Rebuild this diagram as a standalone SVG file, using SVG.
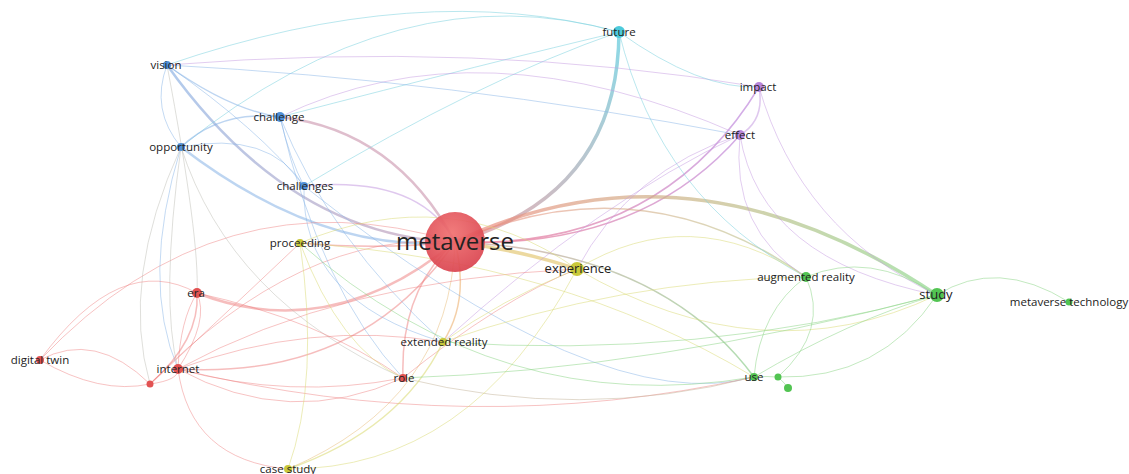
<svg xmlns="http://www.w3.org/2000/svg" width="1129" height="474" viewBox="0 0 1129 474">
<style>
.e path{fill:none;stroke-linecap:round}
.r{stroke:#ee7b7b;stroke-opacity:.5}
.b{stroke:#86b3e6;stroke-opacity:.55}
.c{stroke:#7fd3df;stroke-opacity:.6}
.p{stroke:#c49ae0;stroke-opacity:.55}
.g{stroke:#8fd68a;stroke-opacity:.6}
.y{stroke:#dcdc7a;stroke-opacity:.6}
.gr{stroke:#b8b8b0;stroke-opacity:.5}
.t1{stroke-width:.9}
.t2{stroke-width:1.5}
.t3{stroke-width:2.5}
.t4{stroke-width:3.5}
text{font-family:"Open Sans","Liberation Sans",sans-serif;fill:#222222;font-size:11.5px;text-anchor:middle}
.nr{fill:#e25252}
.nb{fill:#4f8fd6}
.nc{fill:#4ccadb}
.np{fill:#b786d9}
.ng{fill:#52c452}
.ny{fill:#c9c83a}
</style>
<defs>
<linearGradient id="gFut" gradientUnits="userSpaceOnUse" x1="619" y1="32" x2="455" y2="242"><stop offset="0" stop-color="#6fd0e0"/><stop offset="1" stop-color="#e89aa0"/></linearGradient>
<linearGradient id="gStu" gradientUnits="userSpaceOnUse" x1="455" y1="242" x2="937" y2="295"><stop offset="0" stop-color="#f08a80"/><stop offset=".5" stop-color="#c8b888"/><stop offset="1" stop-color="#90d890"/></linearGradient>
<linearGradient id="gEff" gradientUnits="userSpaceOnUse" x1="455" y1="242" x2="740" y2="135"><stop offset="0" stop-color="#f0889a"/><stop offset="1" stop-color="#c898e0"/></linearGradient>
<linearGradient id="gVis" gradientUnits="userSpaceOnUse" x1="167" y1="65" x2="455" y2="242"><stop offset="0" stop-color="#8fb5e6"/><stop offset="1" stop-color="#c8a0b8"/></linearGradient>
<linearGradient id="gUse" gradientUnits="userSpaceOnUse" x1="455" y1="242" x2="754" y2="377"><stop offset="0" stop-color="#d0a0a0"/><stop offset="1" stop-color="#90d090"/></linearGradient>
<radialGradient id="gMeta" cx=".45" cy=".35" r=".7"><stop offset="0" stop-color="#f07070"/><stop offset="1" stop-color="#d8404c"/></radialGradient>
</defs>
<rect width="1129" height="474" fill="#ffffff"/>
<g id="connectors" class="e">
<path class="t4" stroke="url(#gFut)" stroke-opacity=".8" d="M455,242 Q618,195 619,32"/>
<path class="t3" stroke="#d4a8bc" stroke-opacity=".75" d="M455,242 Q395,130 280,117"/>
<path class="t3" stroke="url(#gVis)" stroke-opacity=".7" d="M455,242 Q289,236 167,65"/>
<path class="b t3" d="M455,242 Q322,255 181,147"/>
<path class="p t2" d="M455,242 Q420,175 304,186"/>
<path class="t2" stroke="url(#gEff)" stroke-opacity=".8" d="M455,242 Q640,250 740,135"/>
<path class="t2" stroke="url(#gEff)" stroke-opacity=".8" d="M455,242 Q660,250 759,87"/>
<path class="t4" stroke="url(#gStu)" stroke-opacity=".7" d="M455,242 Q690,130 937,295"/>
<path class="t2" stroke="url(#gStu)" stroke-opacity=".6" d="M455,242 Q640,160 806,277"/>
<path class="t4" stroke="#e0c060" stroke-opacity=".6" d="M455,242 Q520,250 577,269"/>
<path class="r t3" d="M455,242 Q330,345 197,293"/>
<path class="r t2" d="M455,242 Q360,380 178,369"/>
<path class="r t1" d="M455,242 Q220,170 40,360"/>
<path class="r t2" d="M455,242 Q400,290 403,378"/>
<path class="t2" stroke="#ecb070" stroke-opacity=".6" d="M455,242 Q470,300 443,342"/>
<path class="t2" stroke="url(#gUse)" stroke-opacity=".7" d="M455,242 Q660,250 754,377"/>
<path class="t1" stroke="#e8c080" stroke-opacity=".6" d="M455,242 Q450,400 288,469"/>
<path class="r t2" d="M455,242 Q380,250 300,243"/>
<path class="r t1" d="M455,242 Q300,230 150,384"/>
<path class="c t1" d="M167,65 Q420,-22 619,32"/>
<path class="c t1" d="M181,147 Q400,-30 619,32"/>
<path class="c t1" d="M280,117 Q500,60 619,32"/>
<path class="c t1" d="M304,186 Q480,80 619,32"/>
<path class="p t1" d="M167,65 Q480,40 759,87"/>
<path class="p t1" d="M280,117 Q480,20 740,135"/>
<path class="c t1" d="M619,32 Q700,90 759,87"/>
<path class="c t1" d="M619,32 Q660,200 806,277"/>
<path class="p t2" d="M759,87 Q765,120 740,135"/>
<path class="p t1" d="M759,87 Q800,230 937,295"/>
<path class="p t1" d="M740,135 Q760,260 937,295"/>
<path class="p t1" d="M740,135 Q730,230 806,277"/>
<path class="p t1" d="M740,135 Q600,200 443,342"/>
<path class="p t1" d="M740,135 Q630,170 577,269"/>
<path class="b t2" d="M167,65 Q230,110 280,117"/>
<path class="b t1" d="M167,65 Q150,110 181,147"/>
<path class="b t2" d="M181,147 Q220,110 280,117"/>
<path class="b t1" d="M181,147 Q270,130 304,186"/>
<path class="b t1" d="M280,117 Q290,160 304,186"/>
<path class="b t1" d="M167,65 Q260,130 304,186"/>
<path class="b t1" d="M167,65 Q450,80 740,135"/>
<path class="b t1" d="M181,147 Q140,280 178,369"/>
<path class="gr t1" d="M181,147 Q120,280 150,384"/>
<path class="gr t1" d="M167,65 Q200,240 197,293"/>
<path class="gr t1" d="M181,147 Q230,300 403,378"/>
<path class="b t1" d="M280,117 Q320,290 403,378"/>
<path class="b t1" d="M280,117 Q330,240 443,342"/>
<path class="b t1" d="M304,186 Q300,300 443,342"/>
<path class="b t1" d="M304,186 Q600,420 754,377"/>
<path class="gr t1" d="M181,147 Q160,300 178,369"/>
<path class="r t1" d="M40,360 Q95,330 150,384"/>
<path class="r t1" d="M40,360 Q100,395 150,384"/>
<path class="r t1" d="M40,360 Q120,250 197,293"/>
<path class="r t2" d="M150,384 Q200,340 197,293"/>
<path class="r t1" d="M150,384 Q180,380 178,369"/>
<path class="r t1" d="M178,369 Q210,320 197,293"/>
<path class="r t1" d="M178,369 Q180,320 197,293"/>
<path class="r t1" d="M150,384 Q240,300 300,243"/>
<path class="r t1" d="M178,369 Q290,430 403,378"/>
<path class="r t1" d="M178,369 Q290,400 403,378"/>
<path class="r t1" d="M178,369 Q310,320 443,342"/>
<path class="r t1" d="M178,369 Q340,280 577,269"/>
<path class="r t1" d="M197,293 Q320,320 403,378"/>
<path class="r t1" d="M178,369 Q470,440 754,377"/>
<path class="t1" stroke="#c8b8a0" stroke-opacity=".6" d="M403,378 Q580,422 754,377"/>
<path class="r t1" d="M403,378 Q500,300 577,269"/>
<path class="r t1" d="M178,369 Q190,460 288,469"/>
<path class="y t1" d="M300,243 Q450,180 577,269"/>
<path class="y t1" d="M300,243 Q320,380 288,469"/>
<path class="y t1" d="M300,243 Q340,350 403,378"/>
<path class="y t1" d="M300,243 Q560,260 754,377"/>
<path class="y t1" d="M577,269 Q763,378 937,295"/>
<path class="y t1" d="M577,269 Q690,200 806,277"/>
<path class="y t1" d="M577,269 Q470,470 288,469"/>
<path class="y t2" d="M443,342 Q400,430 288,469"/>
<path class="y t1" d="M577,269 Q500,300 443,342"/>
<path class="y t1" d="M443,342 Q620,280 806,277"/>
<path class="g t1" d="M937,295 Q997,257 1069,302"/>
<path class="g t1" d="M806,277 Q870,250 937,295"/>
<path class="g t1" d="M937,295 Q880,380 778,377"/>
<path class="g t1" d="M937,295 Q850,320 754,377"/>
<path class="g t1" d="M806,277 Q760,310 754,377"/>
<path class="g t1" d="M806,277 Q830,330 778,377"/>
<path class="g t1" d="M754,377 Q766,376 778,377"/>
<path class="g t1" d="M778,377 Q785,383 788,388"/>
<path class="g t1" d="M937,295 Q700,360 443,342"/>
<path class="g t1" d="M937,295 Q650,370 403,378"/>
<path class="g t1" d="M754,377 Q500,420 300,243"/>
</g>
<g id="node-metaverse"><circle cx="455" cy="242" r="30" fill="url(#gMeta)" fill-opacity=".92"/><text x="455" y="250" style="font-size:24px">metaverse</text></g>
<g id="node-vision"><circle class="nb" cx="167" cy="65" r="4"/><text x="166" y="69">vision</text></g>
<g id="node-challenge"><circle class="nb" cx="280" cy="117" r="5"/><text x="279" y="121">challenge</text></g>
<g id="node-opportunity"><circle class="nb" cx="181" cy="147" r="4"/><text x="181" y="151">opportunity</text></g>
<g id="node-challenges"><circle class="nb" cx="304" cy="186" r="4"/><text x="305" y="190">challenges</text></g>
<g id="node-proceeding"><circle class="ny" cx="300" cy="243" r="4"/><text x="300" y="247">proceeding</text></g>
<g id="node-future"><circle class="nc" cx="619" cy="32" r="6"/><text x="619" y="36">future</text></g>
<g id="node-impact"><circle class="np" cx="759" cy="87" r="5"/><text x="758" y="91">impact</text></g>
<g id="node-effect"><circle class="np" cx="740" cy="135" r="5"/><text x="740" y="139">effect</text></g>
<g id="node-experience"><circle class="ny" cx="577" cy="269" r="7"/><text x="578" y="273" style="font-size:13px">experience</text></g>
<g id="node-augmented-reality"><circle class="ng" cx="806" cy="277" r="5"/><text x="806" y="281">augmented reality</text></g>
<g id="node-study"><circle class="ng" cx="937" cy="295" r="7"/><text x="936" y="299" style="font-size:13px">study</text></g>
<g id="node-metaverse-technology"><circle class="ng" cx="1069" cy="302" r="3.5"/><text x="1069" y="306">metaverse technology</text></g>
<g id="node-use"><circle class="ng" cx="754" cy="377" r="4"/><text x="754" y="381">use</text></g>
<g id="node-use-2"><circle class="ng" cx="778" cy="377" r="3.5"/></g>
<g id="node-use-3"><circle class="ng" cx="788" cy="388" r="4"/></g>
<g id="node-era"><circle class="nr" cx="197" cy="293" r="5"/><text x="196" y="297">era</text></g>
<g id="node-digital-twin"><circle class="nr" cx="40" cy="360" r="4"/><text x="40" y="364">digital twin</text></g>
<g id="node-internet"><circle class="nr" cx="178" cy="369" r="5"/><text x="178" y="373">internet</text></g>
<g id="node-internet-2"><circle class="nr" cx="150" cy="384" r="3.5"/></g>
<g id="node-extended-reality"><circle class="ny" cx="443" cy="342" r="4"/><text x="444" y="346">extended reality</text></g>
<g id="node-role"><circle class="nr" cx="403" cy="378" r="4"/><text x="404" y="382">role</text></g>
<g id="node-case-study"><circle class="ny" cx="288" cy="469" r="4"/><text x="288" y="473">case study</text></g>
</svg>
